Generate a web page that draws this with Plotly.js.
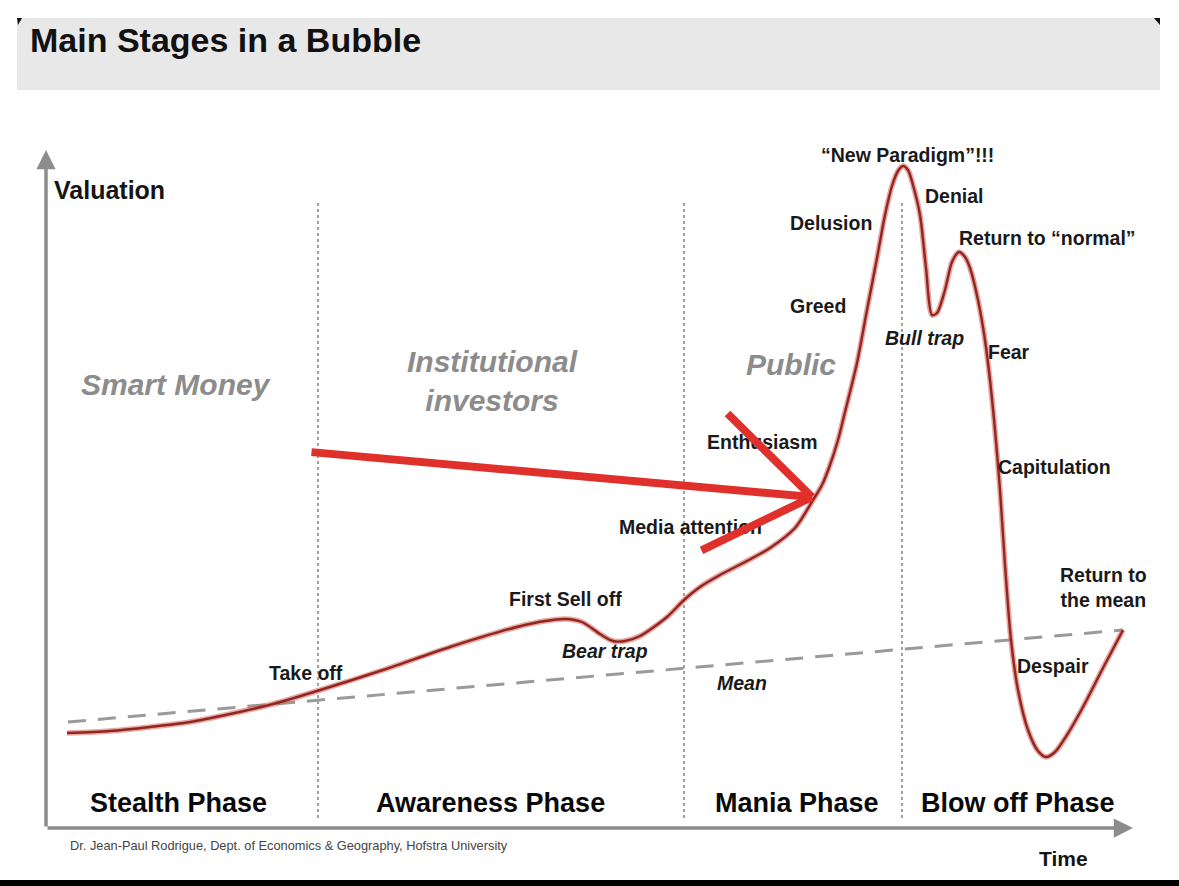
<!DOCTYPE html>
<html>
<head>
<meta charset="utf-8">
<script src="https://cdn.plot.ly/plotly-3.0.1.min.js"></script>
<style>html,body{margin:0;padding:0;background:#fff;}#chart{width:1179px;height:886px;}</style>
</head>
<body>
<div id="chart"></div>
<script>
// ---- Data (time units across, valuation units as drawn) ----
const curveTime = [67,110,150,190,230,273,317,383,450,517,545,565,582,600,613,625,640,667,684,700,720,745,770,795,813,822,830,838,845,857,867,877,885,892,898,903,908,913,920,926,932,937,945,952,959,965,970,978,985,990,995,1000,1005,1011,1018,1028,1038,1046,1055,1067,1083,1103,1123];
const curveVal  = [733,731,727,722,714,704,691,670,647,627,621,619,622,634,641,641,636,617,600,587,575,562,548,528,500,485,465,440,412,363,310,258,215,186,171,166,170,185,215,268,315,313,290,262,252,257,268,300,340,380,430,490,565,640,690,730,751,757,752,735,707,668,630];
const meanTime = [68,1123];
const meanVal  = [722,630];
const phaseBounds = [318,684,902];
const boundSpan = [203,818];
const phaseNames   = ['Stealth Phase','Awareness Phase','Mania Phase','Blow off Phase'];
const phaseCenters = [178,490,797,1018];
const phaseRow = 803;
const investorNames = ['Smart Money','Institutional<br>investors','Public'];
const investorX = [176,492,791];
const investorY = [384,381,364];
const stageNames  = ['“New Paradigm”!!!','Denial','Delusion','Return to “normal”','Greed','Bull trap','Fear','Enthusiasm','Media attention','Capitulation','First Sell off','Bear trap','Take off','Mean','Return to<br>the mean','Despair'];
const stageX      = [907,923,831,957,818,924,986,762,690,996,565,605,306,742,1103,1053];
const stageY      = [155,196,223,238,306,338,352,442,527,467,599,651,673,683,587,666];
const stageAlign  = ['center','left','center','left','center','center','left','center','center','left','center','center','center','center','center','center'];
const stageItalic = [false,false,false,false,false,true,false,false,false,false,false,true,false,true,false,false];
const arrowTip = [812,497];
const arrowTailX = [310,726,700];
const arrowTailY = [452,412,551];
const axisOrigin = [46,828];
const axisEnds = [1133,150];

// ---- Build ----
const FONT = 'Liberation Sans, Arial, sans-serif';
const traces = [];

phaseBounds.forEach(b => traces.push({x:[b,b], y:boundSpan, mode:'lines', line:{color:'#8a8a8a', width:1.6, dash:'dot'}, hoverinfo:'skip'}));
traces.push({x:meanTime, y:meanVal, mode:'lines', line:{color:'#9a9a9a', width:3, dash:'18px,12px'}, hoverinfo:'skip'});
traces.push({x:curveTime, y:curveVal, mode:'lines', line:{color:'rgba(215,95,85,0.55)', width:5.5, shape:'spline', smoothing:0.8}, hoverinfo:'skip'});
traces.push({x:curveTime, y:curveVal, mode:'lines', line:{color:'#8f2620', width:2.4, shape:'spline', smoothing:0.8}, hoverinfo:'skip'});

const ann = [];
ann.push({x:28, y:40, xanchor:'left', yanchor:'middle', text:'<b>Main Stages in a Bubble</b>', showarrow:false, font:{family:FONT, size:34, color:'#111'}});
ann.push({x:52, y:190, xanchor:'left', yanchor:'middle', text:'<b>Valuation</b>', showarrow:false, font:{family:FONT, size:25, color:'#151515'}});
ann.push({x:1037, y:858, xanchor:'left', yanchor:'middle', text:'<b>Time</b>', showarrow:false, font:{family:FONT, size:21, color:'#151515'}});
ann.push({x:68, y:845, xanchor:'left', yanchor:'middle', text:'Dr. Jean-Paul Rodrigue, Dept. of Economics & Geography, Hofstra University', showarrow:false, font:{family:FONT, size:12.8, color:'#444'}});
investorNames.forEach((t,i) => ann.push({x:investorX[i], y:investorY[i], xanchor:'center', yanchor:'middle', text:'<b><i>'+t+'</i></b>', showarrow:false, font:{family:FONT, size:30, color:'#8c8c8c'}}));
phaseNames.forEach((t,i) => ann.push({x:phaseCenters[i], y:phaseRow, xanchor:'center', yanchor:'middle', text:'<b>'+t+'</b>', showarrow:false, font:{family:FONT, size:27, color:'#0a0a0a'}}));
stageNames.forEach((t,i) => ann.push({x:stageX[i], y:stageY[i], xanchor:stageAlign[i], yanchor:'middle', text: stageItalic[i] ? '<b><i>'+t+'</i></b>' : '<b>'+t+'</b>', showarrow:false, font:{family:FONT, size:19.5, color:'#1a1a1a'}}));
ann.push({x:axisEnds[0], y:axisOrigin[1], ax:axisOrigin[0], ay:axisOrigin[1], axref:'x', ayref:'y', xref:'x', yref:'y', text:'', showarrow:true, arrowhead:2, arrowsize:1.1, arrowwidth:3.5, arrowcolor:'#8c8c8c', standoff:0, startstandoff:0});
ann.push({x:axisOrigin[0], y:axisEnds[1], ax:axisOrigin[0], ay:axisOrigin[1], axref:'x', ayref:'y', xref:'x', yref:'y', text:'', showarrow:true, arrowhead:2, arrowsize:1.1, arrowwidth:3.5, arrowcolor:'#8c8c8c', standoff:0, startstandoff:0});
arrowTailX.forEach((tx,i) => ann.push({x:arrowTip[0], y:arrowTip[1], ax:tx, ay:arrowTailY[i], axref:'x', ayref:'y', xref:'x', yref:'y', text:'', showarrow:true, arrowhead:0, arrowwidth:8, arrowcolor:'#e0302c', standoff:0, startstandoff:0}));

const shapes = [
  {type:'rect', xref:'x', yref:'y', x0:17, x1:1160, y0:18, y1:90, fillcolor:'#e8e8e8', line:{width:0}, layer:'below'},
  {type:'path', xref:'x', yref:'y', path:'M17,18 L22,18 L18,25 Z', fillcolor:'#111', line:{width:0}},
  {type:'path', xref:'x', yref:'y', path:'M1154,18 L1160,18 L1160,25 Z', fillcolor:'#111', line:{width:0}},
  {type:'rect', xref:'x', yref:'y', x0:0, x1:1179, y0:880, y1:886, fillcolor:'#000', line:{width:0}}
];

const layout = {
  width:1179, height:886,
  margin:{l:0, r:0, t:0, b:0, pad:0},
  paper_bgcolor:'#ffffff', plot_bgcolor:'#ffffff',
  showlegend:false,
  xaxis:{range:[0,1179], visible:false, fixedrange:true},
  yaxis:{range:[886,0], visible:false, fixedrange:true},
  annotations:ann, shapes:shapes
};
Plotly.newPlot('chart', traces, layout, {displayModeBar:false, staticPlot:true});
</script>
</body>
</html>
